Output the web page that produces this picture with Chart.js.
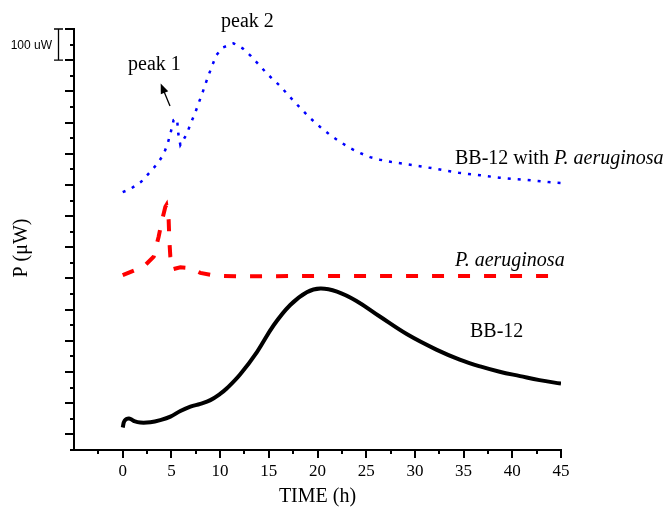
<!DOCTYPE html>
<html>
<head>
<meta charset="utf-8">
<script src="https://cdn.jsdelivr.net/npm/chart.js@4.4.1/dist/chart.umd.min.js"></script>
<style>
  html, body { margin: 0; padding: 0; background: #fff; }
  #wrap { width: 671px; height: 513px; position: relative; }
</style>
</head>
<body>
<div id="wrap"><canvas id="chart"></canvas></div>
<script>
// BB-12 alone (solid black)
const bbTime  = [0, 0.2, 0.65, 1.16, 1.8, 2.84, 3.87, 4.9, 5.92, 6.95, 7.97, 9.0, 10.0, 10.7, 12.07, 13.8, 15.5, 17.2, 18.9, 20.3, 22.0, 24.0, 26.4, 29.2, 32.2, 34.6, 36.7, 38.7, 40.8, 42.8, 45];
const bbPower = [72, 94, 101, 93, 88, 89, 96, 107, 125, 139, 148, 160, 180, 198, 243, 315, 400, 465, 506, 518, 508, 478, 428, 371, 322, 290, 268, 251, 237, 224, 213];

// P. aeruginosa alone (red dashed)
const paTime  = [0, 2.15, 3.18, 3.69, 4.04, 4.38, 4.48, 4.72, 4.79, 4.89, 5.07, 5.92, 6.95, 7.97, 9.5, 11.7, 20, 30, 40, 45];
const paPower = [561, 588, 620, 684, 737, 780, 785, 737, 673, 620, 579, 586, 583, 568, 559, 557, 558, 558, 558, 558];

// BB-12 with P. aeruginosa (blue dotted)
const mixTime  = [0, 0.79, 1.89, 2.74, 3.59, 4.21, 4.62, 4.92, 5.23, 5.58, 5.71, 5.92, 6.46, 6.64, 7.05, 7.46, 7.84, 8.25, 8.72, 9.17, 9.61, 10.3, 11.38, 12.31, 13.17, 14.12, 14.87, 16.17, 17.2, 18.22, 19.25, 20.27, 21.3, 22.32, 23.35, 24.4, 25.4, 26.4, 27.5, 29.2, 30.5, 31.9, 33.3, 34.5, 35.5, 36.7, 38.7, 40.1, 41.5, 43.7, 45];
const mixPower = [827, 837, 860, 889, 919, 949, 983, 1017, 1058, 1062, 1014, 978, 1007, 1019, 1052, 1083, 1116, 1151, 1194, 1231, 1266, 1291, 1304, 1288, 1263, 1231, 1205, 1167, 1131, 1097, 1064, 1036, 1010, 988, 968, 952, 939, 931, 924, 916, 910, 903, 895, 889, 885, 881, 873, 869, 866, 859, 856];

const xTickLabels = ['0', '5', '10', '15', '20', '25', '30', '35', '40', '45'];

const serif = '"Liberation Serif", "Times New Roman", serif';
const pts = (xs, ys) => xs.map((x, i) => ({ x: x, y: ys[i] }));

const decor = {
  id: 'decor',
  afterDraw(chart) {
    const ctx = chart.ctx;
    const xs = chart.scales.x, ys = chart.scales.y;
    const area = chart.chartArea;
    ctx.save();
    ctx.strokeStyle = '#000';
    ctx.lineWidth = 2;
    // x ticks (outside, below axis)
    xs.ticks.forEach(t => {
      if (t.value <= xs.min) return;
      const px = Math.round(xs.getPixelForValue(t.value));
      const major = Math.abs(t.value % 5) < 1e-6;
      ctx.beginPath();
      ctx.moveTo(px, area.bottom);
      ctx.lineTo(px, area.bottom + (major ? 8 : 4));
      ctx.stroke();
    });
    // y ticks (outside, left of axis)
    ys.ticks.forEach(t => {
      const py = Math.round(ys.getPixelForValue(t.value));
      const major = Math.abs(t.value % 100 - 50) < 1e-6;
      ctx.beginPath();
      ctx.moveTo(area.left, py);
      ctx.lineTo(area.left - (major ? 9 : 4), py);
      ctx.stroke();
    });

    // axis titles
    ctx.fillStyle = '#000';
    ctx.font = '20px ' + serif;
    ctx.textAlign = 'center';
    ctx.textBaseline = 'middle';
    ctx.fillText('TIME (h)', (area.left + area.right) / 2, 497);
    ctx.save();
    ctx.translate(22, 248);
    ctx.rotate(-Math.PI / 2);
    ctx.fillText('P (\u03BCW)', 0, 0);
    ctx.restore();

    // scale bar: 100 uW
    const yTop = ys.getPixelForValue(1350), yBot = ys.getPixelForValue(1250);
    ctx.lineWidth = 1.3;
    ctx.beginPath();
    ctx.moveTo(58.5, yTop); ctx.lineTo(58.5, yBot);
    ctx.moveTo(54, yTop); ctx.lineTo(63, yTop);
    ctx.moveTo(54, yBot); ctx.lineTo(63, yBot);
    ctx.stroke();
    ctx.font = '12px "Liberation Sans", Arial, sans-serif';
    ctx.textAlign = 'right';
    ctx.textBaseline = 'alphabetic';
    ctx.fillText('100 uW', 52, 49);

    // annotations
    ctx.font = '20px ' + serif;
    ctx.textAlign = 'left';
    ctx.fillText('peak 2', 221, 27);
    ctx.fillText('peak 1', 128, 70);
    ctx.fillText('BB-12', 470, 337);
    let x0 = 455;
    const part1 = 'BB-12 with ';
    ctx.fillText(part1, x0, 164);
    x0 += ctx.measureText(part1).width;
    ctx.font = 'italic 20px ' + serif;
    ctx.fillText('P. aeruginosa', x0, 164);
    ctx.fillText('P. aeruginosa', 455, 266);

    // arrow to peak 1
    const ax0 = 170, ay0 = 106, ax1 = 160.7, ay1 = 83.5;
    const ang = Math.atan2(ay1 - ay0, ax1 - ax0);
    ctx.lineWidth = 1.3;
    ctx.beginPath();
    ctx.moveTo(ax0, ay0);
    ctx.lineTo(ax1 - 4 * Math.cos(ang), ay1 - 4 * Math.sin(ang));
    ctx.stroke();
    ctx.beginPath();
    ctx.moveTo(ax1, ay1);
    ctx.lineTo(ax1 - 10 * Math.cos(ang) + 4 * Math.sin(ang), ay1 - 10 * Math.sin(ang) - 4 * Math.cos(ang));
    ctx.lineTo(ax1 - 10 * Math.cos(ang) - 4 * Math.sin(ang), ay1 - 10 * Math.sin(ang) + 4 * Math.cos(ang));
    ctx.closePath();
    ctx.fill();
    ctx.restore();
  }
};

new Chart(document.getElementById('chart'), {
  type: 'line',
  data: {
    datasets: [
      { label: 'BB-12 with P. aeruginosa', data: pts(mixTime, mixPower), borderColor: '#0000ff', borderWidth: 2.5, borderDash: [3, 7], pointRadius: 0, tension: 0, fill: false },
      { label: 'P. aeruginosa', data: pts(paTime, paPower), borderColor: '#ff0000', borderWidth: 4, borderDash: [12, 14], pointRadius: 0, tension: 0, fill: false },
      { label: 'BB-12', data: pts(bbTime, bbPower), borderColor: '#000000', borderWidth: 4, pointRadius: 0, tension: 0.4, fill: false }
    ]
  },
  options: {
    responsive: true,
    maintainAspectRatio: false,
    animation: false,
    layout: { padding: { left: 30, right: 110, top: 29, bottom: 0 } },
    plugins: { legend: { display: false }, tooltip: { enabled: false } },
    scales: {
      x: {
        type: 'linear', min: -5, max: 45,
        grid: { display: false, drawTicks: false },
        border: { display: true, color: '#000', width: 2 },
        ticks: {
          stepSize: 2.5, autoSkip: false, maxRotation: 0, padding: 11,
          color: '#000', font: { family: serif, size: 17 },
          callback: v => xTickLabels.includes(String(v)) ? String(v) : ''
        },
        afterFit: s => { s.height = 63; }
      },
      y: {
        min: 0, max: 1350,
        grid: { display: false, drawTicks: false },
        border: { display: true, color: '#000', width: 2 },
        ticks: { stepSize: 50, display: false },
        afterFit: s => { s.width = 44; }
      }
    }
  },
  plugins: [decor]
});
</script>
</body>
</html>
